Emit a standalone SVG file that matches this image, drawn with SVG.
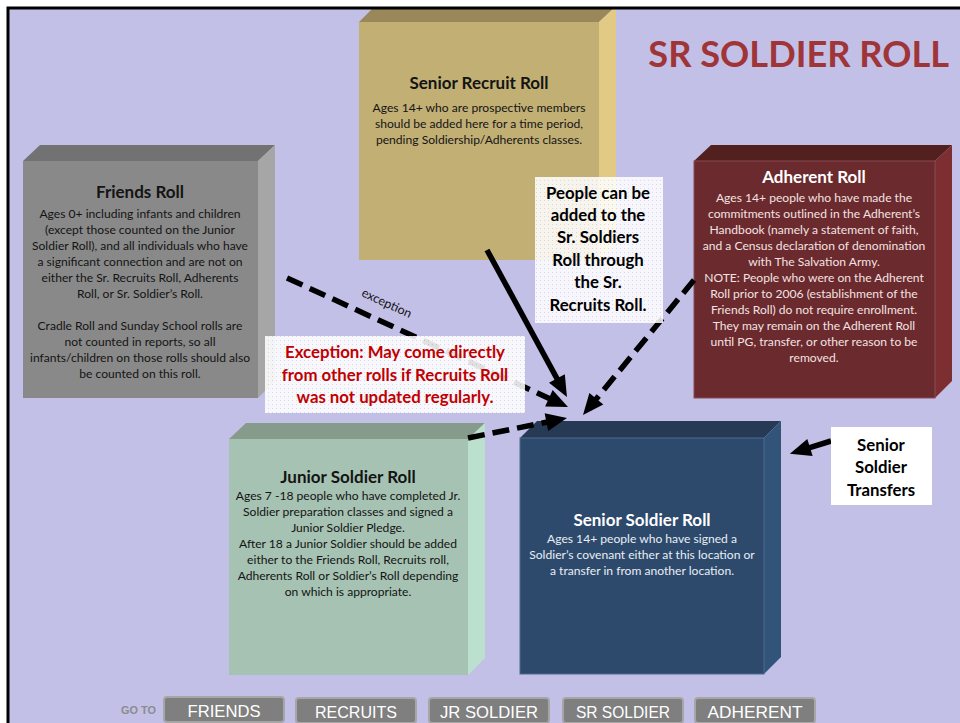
<svg xmlns="http://www.w3.org/2000/svg" width="960" height="723" viewBox="0 0 960 723">
<defs>
<style>
.t{font-family:Lato,"Liberation Sans",sans-serif;text-anchor:middle}
.h{font-weight:bold;font-size:17px}
.b{font-size:12.1px}
.dk{fill:#141414}
.lt{fill:#F3E2E2}
.wt{fill:#E9EEF5}
.con{stroke:#000;fill:none;stroke-width:5.5}
.dash{stroke-dasharray:17 8}
.lbl{font-family:Lato,"Liberation Sans",sans-serif;font-weight:bold;font-size:16.8px;text-anchor:middle}
.btn rect{fill:#7F7F7F;stroke:#A6A6A6;stroke-width:2}
.btn text{font-family:"Liberation Sans",sans-serif;font-size:17px;fill:#fff;text-anchor:middle}
</style>
<pattern id="dots" width="4" height="4" patternUnits="userSpaceOnUse">
<rect width="4" height="4" fill="#fff"/>
<rect x="0" y="0" width="1" height="1" fill="#dcdcec"/>
</pattern>
<marker id="ah" markerUnits="userSpaceOnUse" markerWidth="22" markerHeight="20" refX="1" refY="9" orient="auto" overflow="visible">
<path d="M0,0 L21,9 L0,18 z" fill="#000"/>
</marker>
</defs>
<rect width="960" height="723" fill="#fff"/>
<rect x="9" y="9" width="951" height="714" fill="#C3C0E8"/>

<g id="senior-recruit-roll">
<polygon points="359,22 375,6 616,6 599,22" fill="#9A875A"/>
<polygon points="599,22 616,6 616,244 599,260" fill="#E2CA84"/>
<rect x="359" y="22" width="240" height="238" fill="#C2AF74"/>
<text class="t h dk" x="479" y="89">Senior Recruit Roll</text>
<text class="t b dk" x="479" y="112">Ages 14+ who are prospective members</text>
<text class="t b dk" x="479" y="128">should be added here for a time period,</text>
<text class="t b dk" x="479" y="144">pending Soldiership/Adherents classes.</text>
</g>

<rect width="960" height="7" fill="#fff"/>
<path d="M8,723 V8 H960" fill="none" stroke="#000" stroke-width="3"/>

<g id="title">
<text x="949" y="67" text-anchor="end" font-family="Lato,'Liberation Sans',sans-serif" font-weight="bold" font-size="36.2" fill="#A03538">SR SOLDIER ROLL</text>
</g>

<g id="friends-roll">
<polygon points="23,161 40,145 275,145 258,161" fill="#727272"/>
<polygon points="258,161 275,145 275,381 258,398" fill="#A6A6A6"/>
<rect x="23" y="161" width="235" height="237" fill="#898989"/>
<text class="t h dk" x="140" y="198">Friends Roll</text>
<text class="t b dk" x="140" y="218">Ages 0+ including infants and children</text>
<text class="t b dk" x="140" y="234">(except those counted on the  Junior</text>
<text class="t b dk" x="140" y="250">Soldier Roll), and all individuals who have</text>
<text class="t b dk" x="140" y="266">a significant connection and are not on</text>
<text class="t b dk" x="140" y="282">either the Sr. Recruits Roll,  Adherents</text>
<text class="t b dk" x="140" y="298">Roll, or Sr. Soldier’s Roll.</text>
<text class="t b dk" x="140" y="330">Cradle Roll and Sunday School rolls are</text>
<text class="t b dk" x="140" y="346">not counted in reports, so all</text>
<text class="t b dk" x="140" y="362">infants/children on those rolls should also</text>
<text class="t b dk" x="140" y="378">be counted on this roll.</text>
</g>

<g id="adherent-roll">
<polygon points="694,161 711,145 952,145 935,161" fill="#52201F"/>
<polygon points="935,161 952,145 952,381 935,398" fill="#7D2E30"/>
<rect x="694" y="161" width="241" height="237" fill="#6B2A2E" stroke="#8A4A55" stroke-width="1"/>
<text class="t h" fill="#fff" x="814" y="183">Adherent Roll</text>
<text class="t b lt" x="814" y="202">Ages 14+ people who have made the</text>
<text class="t b lt" x="814" y="218">commitments outlined in the Adherent’s</text>
<text class="t b lt" x="814" y="234">Handbook (namely a statement of faith,</text>
<text class="t b lt" x="814" y="250">and a Census declaration of denomination</text>
<text class="t b lt" x="814" y="266">with The Salvation Army.</text>
<text class="t b lt" x="814" y="282">NOTE:  People who were on the Adherent</text>
<text class="t b lt" x="814" y="298">Roll prior to 2006 (establishment of the</text>
<text class="t b lt" x="814" y="314">Friends Roll) do not require enrollment.</text>
<text class="t b lt" x="814" y="330">They may remain on the Adherent Roll</text>
<text class="t b lt" x="814" y="346">until PG, transfer, or other reason to be</text>
<text class="t b lt" x="814" y="362">removed.</text>
</g>

<g id="junior-soldier-roll">
<polygon points="229,439 246,423 485,423 468,439" fill="#879B8D"/>
<polygon points="468,439 485,423 485,658 468,675" fill="#BCE0CE"/>
<rect x="229" y="439" width="239" height="236" fill="#A6C2B2"/>
<text class="t h dk" x="348" y="483">Junior Soldier Roll</text>
<text class="t b dk" x="348" y="500">Ages 7 -18 people who have  completed Jr.</text>
<text class="t b dk" x="348" y="516">Soldier preparation classes and signed a</text>
<text class="t b dk" x="348" y="532">Junior  Soldier Pledge.</text>
<text class="t b dk" x="348" y="548">After 18 a Junior Soldier should be added</text>
<text class="t b dk" x="348" y="564">either to the Friends Roll, Recruits roll,</text>
<text class="t b dk" x="348" y="580">Adherents Roll or  Soldier’s Roll depending</text>
<text class="t b dk" x="348" y="596">on which is appropriate.</text>
</g>

<g id="senior-soldier-roll">
<polygon points="520,438 537,421 781,421 764,438" fill="#263A56"/>
<polygon points="764,438 781,421 781,657 764,674" fill="#335479"/>
<rect x="520" y="438" width="244" height="236" fill="#2D4A6C" stroke="#4A6A90" stroke-width="1"/>
<text class="t h" fill="#fff" x="642" y="526">Senior Soldier Roll</text>
<text class="t b wt" x="642" y="543">Ages 14+ people who have signed a</text>
<text class="t b wt" x="642" y="559">Soldier’s covenant either at this location or</text>
<text class="t b wt" x="642" y="575">a transfer in from another location.</text>
</g>

<g id="connectors">
<line class="con" x1="487" y1="250" x2="557.4" y2="379.4" marker-end="url(#ah)"/>
<line class="con dash" x1="287" y1="278" x2="549.8" y2="398.7" marker-end="url(#ah)"/>
<line class="con dash" x1="468" y1="438" x2="547.4" y2="422" marker-end="url(#ah)"/>
<line class="con dash" x1="694" y1="280" x2="595.7" y2="399.6" marker-end="url(#ah)"/>
<line class="con" x1="831" y1="441" x2="809" y2="447.8" marker-end="url(#ah)"/>
<text x="385" y="307" transform="rotate(24.7 385 307)" font-family="Lato,'Liberation Sans',sans-serif" font-size="12.5" fill="#111" text-anchor="middle">exception</text>
</g>

<g id="exception-note">
<rect x="265" y="336" width="260" height="77" fill="url(#dots)" opacity="0.88"/>
<text class="lbl" fill="#C00000" x="395" y="358">Exception: May come directly</text>
<text class="lbl" fill="#C00000" x="395" y="381">from other rolls if Recruits Roll</text>
<text class="lbl" fill="#C00000" x="395" y="403">was not updated regularly.</text>
</g>

<g id="recruits-note">
<rect x="535" y="177" width="128" height="146" fill="url(#dots)" opacity="0.86"/>
<text class="lbl" fill="#000" x="598" y="199">People can be</text>
<text class="lbl" fill="#000" x="598" y="221">added to the</text>
<text class="lbl" fill="#000" x="598" y="243">Sr. Soldiers</text>
<text class="lbl" fill="#000" x="598" y="266">Roll through</text>
<text class="lbl" fill="#000" x="598" y="288">the Sr.</text>
<text class="lbl" fill="#000" x="598" y="311">Recruits Roll.</text>
</g>

<g id="transfers-note">
<rect x="831" y="427" width="101" height="78" fill="#fff"/>
<text class="lbl" fill="#000" x="881" y="451">Senior</text>
<text class="lbl" fill="#000" x="881" y="473">Soldier</text>
<text class="lbl" fill="#000" x="881" y="496">Transfers</text>
</g>

<g id="nav">
<text x="121" y="714" font-family="'Liberation Sans',sans-serif" font-weight="bold" font-size="11" fill="#8C8C8C" textLength="35" lengthAdjust="spacingAndGlyphs">GO TO</text>
<g class="btn" id="btn-friends"><rect x="164" y="697" width="120" height="25" rx="3"/><text x="224" y="717" textLength="73" lengthAdjust="spacingAndGlyphs">FRIENDS</text></g>
<g class="btn" id="btn-recruits"><rect x="296" y="698" width="120" height="25" rx="3"/><text x="356" y="718" textLength="82" lengthAdjust="spacingAndGlyphs">RECRUITS</text></g>
<g class="btn" id="btn-jr"><rect x="429" y="698" width="120" height="25" rx="3"/><text x="489" y="718" textLength="98" lengthAdjust="spacingAndGlyphs">JR SOLDIER</text></g>
<g class="btn" id="btn-sr"><rect x="563" y="698" width="120" height="25" rx="3"/><text x="623" y="718" textLength="94" lengthAdjust="spacingAndGlyphs">SR SOLDIER</text></g>
<g class="btn" id="btn-adherent"><rect x="695" y="698" width="120" height="25" rx="3"/><text x="755" y="718" textLength="95" lengthAdjust="spacingAndGlyphs">ADHERENT</text></g>
</g>
</svg>
